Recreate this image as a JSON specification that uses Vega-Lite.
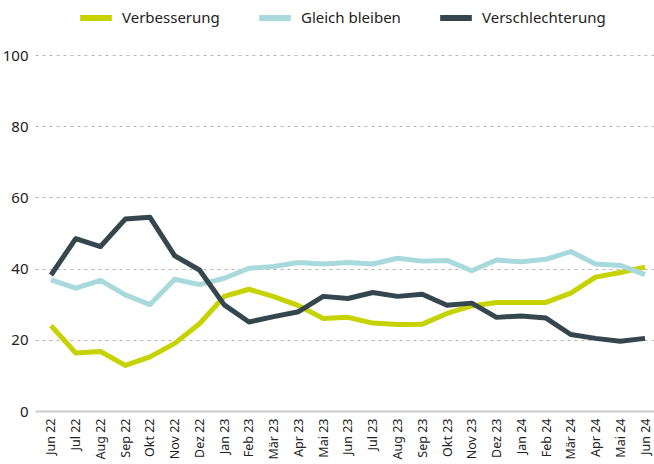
{
  "$schema": "https://vega.github.io/schema/vega-lite/v6.json",
  "autosize": "none",
  "width": 619,
  "height": 356,
  "padding": {"left": 35, "top": 55, "right": 0, "bottom": 53},
  "background": "white",
  "config": {
    "font": "Noto Sans",
    "view": {"stroke": null}
  },
  "datasets": {
    "d": [
      {"m":"Jun 22","V":24.0,"G":36.8,"S":38.2},
      {"m":"Jul 22","V":16.3,"G":34.5,"S":48.4},
      {"m":"Aug 22","V":16.7,"G":36.7,"S":46.2},
      {"m":"Sep 22","V":12.8,"G":32.6,"S":53.9},
      {"m":"Okt 22","V":15.2,"G":29.9,"S":54.4},
      {"m":"Nov 22","V":19.0,"G":37.0,"S":43.6},
      {"m":"Dez 22","V":24.5,"G":35.5,"S":39.6},
      {"m":"Jan 23","V":32.2,"G":37.3,"S":29.8},
      {"m":"Feb 23","V":34.2,"G":40.1,"S":25.0},
      {"m":"Mär 23","V":32.1,"G":40.6,"S":26.5},
      {"m":"Apr 23","V":29.6,"G":41.7,"S":27.9},
      {"m":"Mai 23","V":26.0,"G":41.3,"S":32.2},
      {"m":"Jun 23","V":26.3,"G":41.7,"S":31.6},
      {"m":"Jul 23","V":24.7,"G":41.3,"S":33.3},
      {"m":"Aug 23","V":24.3,"G":42.9,"S":32.2},
      {"m":"Sep 23","V":24.4,"G":42.1,"S":32.8},
      {"m":"Okt 23","V":27.4,"G":42.3,"S":29.7},
      {"m":"Nov 23","V":29.5,"G":39.4,"S":30.3},
      {"m":"Dez 23","V":30.5,"G":42.4,"S":26.3},
      {"m":"Jan 24","V":30.5,"G":41.9,"S":26.7},
      {"m":"Feb 24","V":30.5,"G":42.6,"S":26.1},
      {"m":"Mär 24","V":33.1,"G":44.8,"S":21.5},
      {"m":"Apr 24","V":37.6,"G":41.3,"S":20.4},
      {"m":"Mai 24","V":38.9,"G":40.9,"S":19.6},
      {"m":"Jun 24","V":40.4,"G":38.3,"S":20.4}
    ]
  },
  "data": {"name": "d"},
  "transform": [
    {"fold": ["V", "G", "S"], "as": ["k", "value"]},
    {"calculate": "datum.k === 'V' ? 'Verbesserung' : datum.k === 'G' ? 'Gleich bleiben' : 'Verschlechterung'", "as": "Serie"}
  ],
  "mark": {"type": "line", "strokeWidth": 5, "strokeJoin": "round", "strokeCap": "butt"},
  "encoding": {
    "x": {
      "field": "m",
      "type": "ordinal",
      "sort": null,
      "scale": {"type": "point", "padding": 0.505, "align": 0.64},
      "axis": {
        "title": null,
        "labelAngle": -90,
        "labelAlign": "right",
        "labelBaseline": "middle",
        "labelFontSize": 12.5,
        "labelColor": "#222222",
        "labelPadding": 7,
        "ticks": false,
        "domain": false,
        "grid": false
      }
    },
    "y": {
      "field": "value",
      "type": "quantitative",
      "scale": {"domain": [0, 100], "nice": false},
      "axis": {
        "title": null,
        "values": [0, 20, 40, 60, 80, 100],
        "labelFontSize": 15,
        "labelColor": "#222222",
        "labelPadding": 7,
        "ticks": false,
        "domain": false,
        "grid": true,
        "gridColor": {"condition": {"test": "datum.value === 0", "value": "#cccccc"}, "value": "#b5b5b5"},
        "gridDash": {"condition": {"test": "datum.value === 0", "value": []}, "value": [3, 4]},
        "gridWidth": {"condition": {"test": "datum.value === 0", "value": 2}, "value": 1}
      }
    },
    "color": {
      "field": "Serie",
      "type": "nominal",
      "scale": {
        "domain": ["Verbesserung", "Gleich bleiben", "Verschlechterung"],
        "range": ["#c6d300", "#a8dadd", "#36464f"]
      },
      "legend": {
        "title": null,
        "orient": "none",
        "direction": "horizontal",
        "legendX": 42,
        "legendY": -56,
        "symbolType": "stroke",
        "symbolStrokeWidth": 6,
        "symbolSize": 1000,
        "labelFontSize": 15,
        "labelColor": "#222222",
        "labelOffset": 7,
        "columnPadding": 27
      }
    }
  }
}
